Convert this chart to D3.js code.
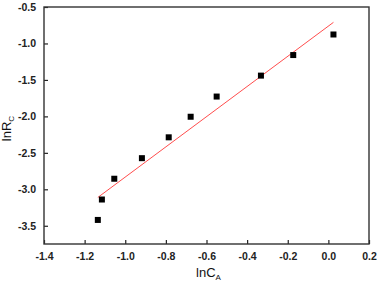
<!DOCTYPE html>
<html>
<head>
<meta charset="UTF-8">
<script src="https://cdn.jsdelivr.net/npm/d3@7"></script>
<style>
  body { margin: 0; background: #fff; }
  text { font-family: Arial, "Liberation Sans", sans-serif; }
</style>
</head>
<body>
<script>
  // lnC_A vs lnR_C
  const lnCA = [-1.135, -1.115, -1.054, -0.918, -0.786, -0.678, -0.550, -0.332, -0.173, 0.025]
  const lnRC = [-3.42, -3.14, -2.855, -2.573, -2.287, -2.005, -1.728, -1.441, -1.159, -0.877]
  // linear fit drawn in red
  const fitSlope = 2.07
  const fitIntercept = -0.762
  const xTicks = [-1.4, -1.2, -1.0, -0.8, -0.6, -0.4, -0.2, 0.0, 0.2]
  const yTicks = [-0.5, -1.0, -1.5, -2.0, -2.5, -3.0, -3.5]

  const width = 377
  const height = 283
  const margin = {top: 7, right: 8, bottom: 39, left: 44}

  const x = d3.scaleLinear().domain([-1.4, 0.2]).range([margin.left, width - margin.right])
  const y = d3.scaleLinear().domain([-3.75, -0.5]).range([height - margin.bottom, margin.top])

  const svg = d3.select("body").append("svg")
    .attr("width", width)
    .attr("height", height)

  // plain hyphen as minus, like the original
  const fmt = d => d.toFixed(1)

  // bottom axis, inward ticks
  const xAxis = svg.append("g")
    .attr("transform", `translate(0,${height - margin.bottom})`)
  xAxis.call(d3.axisBottom(x).tickValues(d3.range(-1.4, 0.21, 0.1)).tickSize(-2).tickFormat(""))
  xAxis.call(d3.axisBottom(x).tickValues(xTicks).tickSize(-4).tickPadding(10).tickFormat(fmt))
  xAxis.selectAll(".domain").remove()
  xAxis.selectAll("line").attr("stroke", "#222").attr("stroke-width", 1.2)
  xAxis.selectAll("text").attr("font-size", 10.5).attr("font-weight", "bold").attr("fill", "#222")
    .attr("dy", "0.6em")

  const yAxis = svg.append("g")
    .attr("transform", `translate(${margin.left},0)`)
  yAxis.call(d3.axisLeft(y).tickValues(d3.range(-3.75, -0.49, 0.25)).tickSize(-2).tickFormat(""))
  yAxis.call(d3.axisLeft(y).tickValues(yTicks).tickSize(-4).tickPadding(8).tickFormat(fmt))
  yAxis.selectAll(".domain").remove()
  yAxis.selectAll("line").attr("stroke", "#222").attr("stroke-width", 1.2)
  yAxis.selectAll("text").attr("font-size", 10.5).attr("font-weight", "bold").attr("fill", "#222")

  // frame
  svg.append("rect")
    .attr("x", margin.left)
    .attr("y", margin.top)
    .attr("width", width - margin.left - margin.right)
    .attr("height", height - margin.top - margin.bottom)
    .attr("fill", "none")
    .attr("stroke", "#333")
    .attr("stroke-width", 1.4)

  // fit line
  const x0 = lnCA[0], x1 = lnCA[lnCA.length - 1]
  svg.append("line")
    .attr("x1", x(x0)).attr("y1", y(fitSlope * x0 + fitIntercept))
    .attr("x2", x(x1)).attr("y2", y(fitSlope * x1 + fitIntercept))
    .attr("stroke", "#ff4d4d")
    .attr("stroke-width", 1)

  // points
  const s = 6
  svg.append("g")
    .selectAll("rect")
    .data(lnCA)
    .join("rect")
    .attr("x", (d, i) => x(d) - s / 2)
    .attr("y", (d, i) => y(lnRC[i]) - s / 2)
    .attr("width", s)
    .attr("height", s)
    .attr("fill", "#000")

  // axis titles
  const xt = svg.append("text")
    .attr("x", (margin.left + width - margin.right) / 2 + 2)
    .attr("y", 277)
    .attr("text-anchor", "middle")
    .attr("font-size", 13)
    .attr("fill", "#111")
  xt.append("tspan").text("lnC")
  xt.append("tspan").attr("font-size", 8).attr("dy", 3).text("A")

  const yt = svg.append("text")
    .attr("transform", `translate(11,${(margin.top + height - margin.bottom) / 2 + 3}) rotate(-90)`)
    .attr("text-anchor", "middle")
    .attr("font-size", 13)
    .attr("fill", "#111")
  yt.append("tspan").text("lnR")
  yt.append("tspan").attr("font-size", 8).attr("dy", 3).text("C")
</script>
</body>
</html>
